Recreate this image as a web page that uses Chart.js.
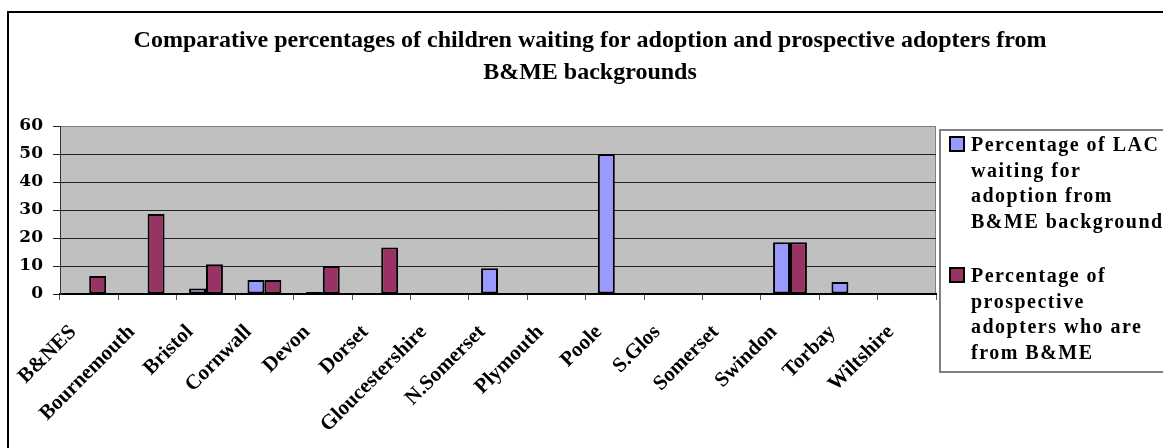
<!DOCTYPE html>
<html>
<head>
<meta charset="utf-8">
<title>B&amp;ME adoption chart</title>
<script src="https://cdn.jsdelivr.net/npm/chart.js@4.4.1/dist/chart.umd.min.js"></script>
<style>
	body { margin : 0; background : #ffffff; overflow : hidden; }
	#wrap { position : relative; width : 1163px; height : 448px; }
</style>
</head>
<body>
<div id="wrap"><canvas id="myChart"></canvas></div>
<script>
var categories = ["B&NES", "Bournemouth", "Bristol", "Cornwall", "Devon", "Dorset", "Gloucestershire", "N.Somerset", "Plymouth", "Poole", "S.Glos", "Somerset", "Swindon", "Torbay", "Wiltshire"];
var lacWaiting = [0, 0, 2, 5, 0.7, 0, 0, 9.2, 0, 50, 0, 0, 18.5, 4.3, 0];
var adopters = [6.4, 28.6, 10.6, 5, 10, 16.6, 0, 0, 0, 0, 0, 0, 18.5, 0, 0];
var yTicks = [0, 10, 20, 30, 40, 50, 60];

var titleLines = ["Comparative percentages of children waiting for adoption and prospective adopters from", "B&ME backgrounds"];
var lacLabel = ["Percentage of LAC", "waiting for", "adoption from", "B&ME background"];
var adoptersLabel = ["Percentage of", "prospective", "adopters who are", "from B&ME"];

var serif = "'Liberation Serif', 'Times New Roman', serif";

// white page, outer frame and grey plot background
var framePlugin = {
	id : "frame",
	beforeDraw : function(chart) {
		var ctx = chart.ctx;
		var a = chart.chartArea;
		ctx.save();
		ctx.fillStyle = "#ffffff";
		ctx.fillRect(0, 0, chart.width, chart.height);
		ctx.fillStyle = "#000000";
		ctx.fillRect(7, 11, 2, chart.height);
		ctx.fillRect(7, 11, chart.width, 2);
		ctx.fillStyle = "#c0c0c0";
		ctx.fillRect(a.left, a.top, a.right - a.left, a.bottom - a.top);
		ctx.strokeStyle = "#808080";
		ctx.lineWidth = 1;
		ctx.beginPath();
		ctx.moveTo(a.right - 0.5, a.top);
		ctx.lineTo(a.right - 0.5, a.bottom);
		ctx.stroke();
		ctx.restore();
	},
	afterDraw : function(chart) {
		var ctx = chart.ctx;
		var a = chart.chartArea;
		var ds = chart.data.datasets;
		ctx.save();

		// title
		ctx.fillStyle = "#000000";
		ctx.font = "bold 24px " + serif;
		ctx.textAlign = "center";
		ctx.textBaseline = "alphabetic";
		for (var i = 0; i < titleLines.length; i++) {
			ctx.fillText(titleLines[i], 590, 47 + i * 32);
		}

		// legend box
		var lx = a.right + 4;
		var ly = a.top + 4;
		ctx.strokeStyle = "#808080";
		ctx.lineWidth = 2;
		ctx.strokeRect(lx, ly, chart.width, 242);

		ctx.font = "bold 20px " + serif;
		ctx.textAlign = "left";
		ctx.letterSpacing = "1.5px";
		var groups = [lacLabel, adoptersLabel];
		for (var g = 0; g < groups.length; g++) {
			var top = ly + 7 + g * 131;
			ctx.fillStyle = ds[g].backgroundColor;
			ctx.fillRect(lx + 10, top, 14, 14);
			ctx.strokeStyle = "#000000";
			ctx.lineWidth = 2;
			ctx.strokeRect(lx + 10, top, 14, 14);
			ctx.fillStyle = "#000000";
			for (var j = 0; j < groups[g].length; j++) {
				ctx.fillText(groups[g][j], lx + 31, top + 14 + j * 25.5);
			}
		}
		ctx.restore();
	}
};

var ctx = document.getElementById("myChart");

var data = {
	labels : categories,
	datasets : [
		{
			label : "Percentage of LAC waiting for adoption from B&ME background",
			data : lacWaiting,
			backgroundColor : "#9999ff",
			borderColor : "#000000",
			borderWidth : 2,
			borderSkipped : false
		},
		{
			label : "Percentage of prospective adopters who are from B&ME",
			data : adopters,
			backgroundColor : "#993366",
			borderColor : "#000000",
			borderWidth : 2,
			borderSkipped : false
		}
	]
};

var myChart = new Chart(ctx, {
	type : "bar",
	data : data,
	options : {
		responsive : true,
		maintainAspectRatio : false,
		animation : false,
		layout : {
			padding : { top : 126, right : 227, bottom : 0, left : 0 }
		},
		datasets : {
			bar : {
				categoryPercentage : 0.58,
				barPercentage : 1.0
			}
		},
		plugins : {
			legend : { display : false },
			title : { display : false },
			tooltip : { enabled : false }
		},
		scales : {
			x : {
				afterFit : function(scale) { scale.height = 154; },
				grid : {
					offset : true,
					drawOnChartArea : false,
					tickLength : 6,
					color : "#555555"
				},
				border : { color : "#000000", width : 2 },
				ticks : {
					color : "#000000",
					minRotation : 45,
					maxRotation : 45,
					autoSkip : false,
					padding : 20,
					labelOffset : -16,
					font : { family : serif, size : 21, weight : "bold" }
				}
			},
			y : {
				min : 0,
				max : 60,
				afterFit : function(scale) { scale.width = 60; },
				afterBuildTicks : function(scale) {
					scale.ticks = yTicks.map(function(v) { return { value : v }; });
				},
				grid : {
					color : function(c) { return c.tick && c.tick.value == 60 ? "#808080" : "#222222"; },
					tickColor : "#222222",
					tickLength : 7,
					lineWidth : 1
				},
				border : { color : "#333333", width : 1 },
				ticks : {
					color : "#000000",
					padding : 10,
					font : { family : "'DejaVu Serif', serif", size : 17, weight : "bold" }
				}
			}
		}
	},
	plugins : [framePlugin]
});
</script>
</body>
</html>
